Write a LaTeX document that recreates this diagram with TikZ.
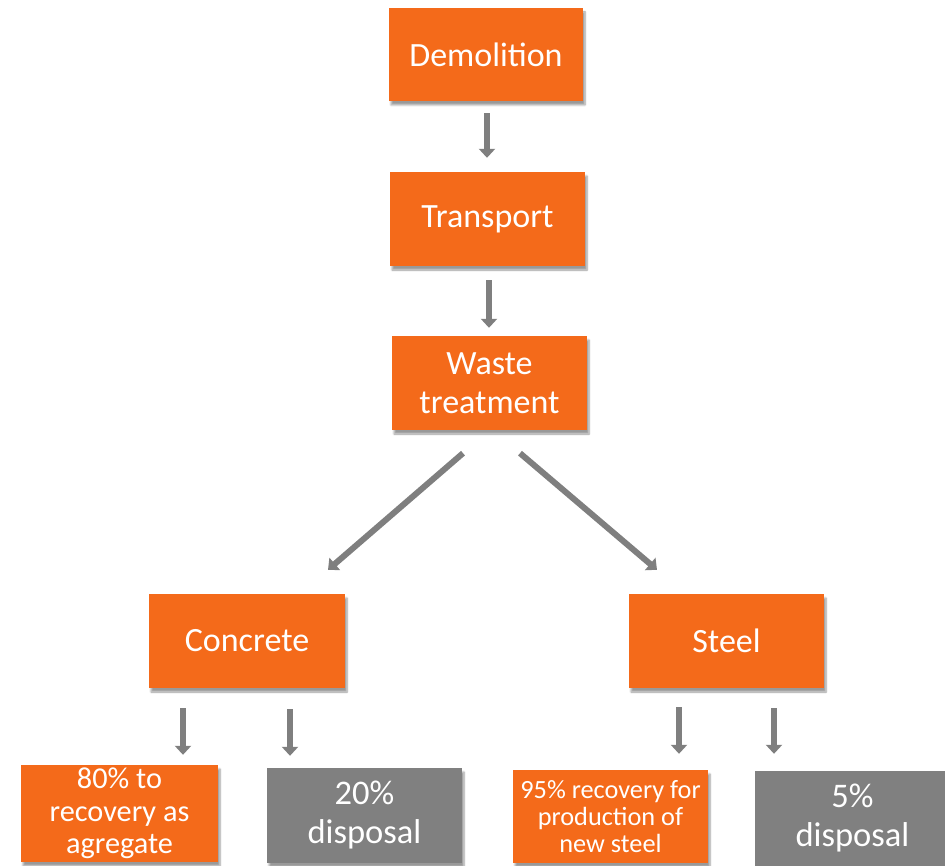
\documentclass[tikz,border=0pt]{standalone}
\usepackage{fontspec}
\setmainfont{Carlito}
\usetikzlibrary{arrows.meta,calc,shadows.blur}
\definecolor{orng}{HTML}{F46A1A}
\definecolor{gry}{HTML}{808080}
\definecolor{arrgry}{HTML}{7F7F7F}
\tikzset{
  boxbase/.style={minimum width=195pt, minimum height=94pt, inner sep=0pt, align=center, text=white,
    blur shadow={shadow xshift=2pt, shadow yshift=-4pt, shadow blur steps=6, shadow blur extra rounding=0pt, shadow opacity=40}},
  obox/.style={boxbase, fill=orng, font=\fontsize{34}{39}\selectfont},
  gbox/.style={boxbase, fill=gry, font=\fontsize{34.5}{39}\selectfont},
  arr/.style={draw=arrgry, line width=6pt, -{Triangle[width=16pt,length=9pt]}}
}
\begin{document}
\begin{tikzpicture}[x=1pt,y=-1pt]
\useasboundingbox (0,0) rectangle (945,866);
\node[obox, minimum width=194pt, minimum height=93pt] (dem) at (486,54.5) {Demolition};
\node[obox] (tra) at (487.5,219) {Transport};
\node[obox] (was) at (489.5,383) {Waste\\treatment};
\node[obox, minimum width=196pt] (con) at (247,641) {Concrete};
\node[obox] (ste) at (726.5,641) {Steel};
\node[obox, minimum width=197pt, minimum height=97pt, font=\fontsize{30.3}{32.5}\selectfont] (r80) at (119.5,813.5) {80\% to\\recovery as\\agregate};
\node[gbox, minimum height=95pt] (d20) at (364.5,815.5) {20\%\\disposal};
\node[obox, minimum height=93pt, font=\fontsize{26.3}{27}\selectfont] (r95) at (610.5,816.5) {95\% recovery for\\production of\\new steel};
\node[gbox, minimum height=95pt] (d5) at (852.5,818.5) {5\%\\disposal};

\draw[arr] ($(dem.south)+(1,12)$) -- ($(tra.north)+(-0.5,-14)$);
\draw[arr] ($(tra.south)+(1.5,14)$) -- ($(was.north)+(-0.5,-8)$);
\draw[arr] ($(was.south)+(-26.5,23)$) -- ($(con.north)+(81,-24)$);
\draw[arr] ($(was.south)+(30.5,23)$) -- ($(ste.north)+(-69.5,-24)$);
\draw[arr] ($(con.south)+(-64,20)$) -- ($(r80.north)+(63.5,-10)$);
\draw[arr] ($(con.south)+(43,21)$) -- ($(d20.north)+(-74.5,-12)$);
\draw[arr] ($(ste.south)+(-47.5,19)$) -- ($(r95.north)+(68.5,-16)$);
\draw[arr] ($(ste.south)+(47.5,20)$) -- ($(d5.north)+(-78.5,-17)$);
\end{tikzpicture}
\end{document}
